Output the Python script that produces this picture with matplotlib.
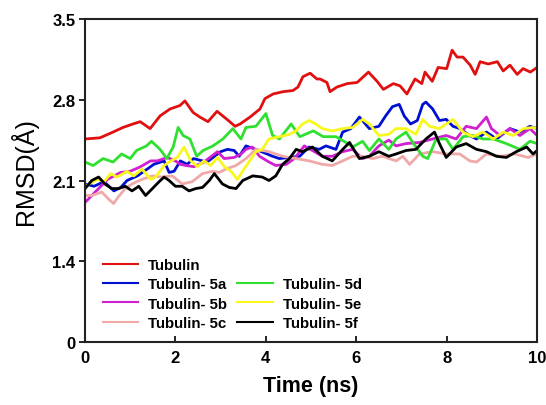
import matplotlib
matplotlib.use("Agg")
import matplotlib.pyplot as plt
from matplotlib.lines import Line2D

plt.rcParams['font.family'] = ['Liberation Sans', 'DejaVu Sans']

# RMSD traces (Å) against simulation time (ns)
t_tub = [0, 0.33, 0.62, 0.84, 1.06, 1.22, 1.44, 1.66, 1.88, 2.10, 2.21, 2.39, 2.54, 2.72, 2.92,
         3.14, 3.32, 3.43, 3.65, 3.87, 3.98, 4.16, 4.38, 4.60, 4.71, 4.82, 4.98, 5.13, 5.2, 5.35,
         5.42, 5.57, 5.8, 6.02, 6.27, 6.46, 6.6, 6.82, 6.97, 7.12, 7.3, 7.45, 7.52, 7.68, 7.81,
         8.0, 8.12, 8.23, 8.36, 8.52, 8.63, 8.74, 8.92, 9.12, 9.25, 9.4, 9.56, 9.69, 9.85, 10]
r_tub = [2.46, 2.47, 2.52, 2.56, 2.59, 2.61, 2.55, 2.66, 2.72, 2.75, 2.79, 2.69, 2.65, 2.61, 2.70,
         2.63, 2.57, 2.59, 2.65, 2.72, 2.81, 2.85, 2.87, 2.88, 2.91, 3.00, 3.03, 2.98, 2.98, 2.95,
         2.87, 2.91, 2.94, 2.95, 3.04, 2.96, 2.89, 2.94, 2.92, 2.85, 2.98, 2.94, 3.04, 2.96, 3.08,
         3.07, 3.23, 3.17, 3.17, 3.10, 3.02, 3.13, 3.11, 3.13, 3.05, 3.10, 3.02, 3.07, 3.04, 3.08]

t_5a = [0, 0.2, 0.42, 0.64, 0.79, 0.93, 1.16, 1.38, 1.52, 1.75, 1.86, 1.97, 2.11, 2.26, 2.4,
        2.7, 3.0, 3.15, 3.3, 3.41, 3.56, 3.78, 4.15, 4.3, 4.75, 4.95, 5.18, 5.33, 5.55, 5.7,
        5.88, 6.07, 6.29, 6.5, 6.65, 6.8, 6.95, 7.06, 7.2, 7.35, 7.47, 7.54, 7.69, 7.84, 7.99,
        8.14, 8.29, 8.51, 8.66, 8.88, 9.1, 9.4, 9.62, 9.84, 10]
r_5a = [2.07, 2.05, 2.09, 2.01, 2.04, 2.10, 2.14, 2.20, 2.24, 2.27, 2.17, 2.18, 2.27, 2.24, 2.29,
        2.26, 2.35, 2.37, 2.36, 2.31, 2.40, 2.37, 2.31, 2.29, 2.31, 2.39, 2.37, 2.40, 2.37, 2.52,
        2.55, 2.65, 2.55, 2.57, 2.66, 2.74, 2.76, 2.66, 2.59, 2.62, 2.76, 2.78, 2.72, 2.62, 2.63,
        2.57, 2.55, 2.49, 2.46, 2.52, 2.46, 2.55, 2.52, 2.57, 2.55]

t_5b = [0, 0.15, 0.3, 0.5, 0.79, 1.0, 1.23, 1.45, 1.6, 1.82, 2.0, 2.11, 2.23, 2.41, 2.63,
        2.93, 3.08, 3.3, 3.45, 3.56, 3.7, 3.86, 4.07, 4.22, 4.45, 4.63, 4.85, 5.03, 5.25, 5.47,
        5.7, 5.92, 6.14, 6.29, 6.5, 6.72, 6.88, 7.1, 7.4, 7.69, 7.99, 8.21, 8.43, 8.66, 8.88,
        8.99, 9.18, 9.4, 9.62, 9.84, 10]
r_5b = [1.91, 1.97, 2.03, 2.11, 2.17, 2.18, 2.22, 2.27, 2.27, 2.30, 2.27, 2.24, 2.23, 2.22, 2.26,
        2.35, 2.29, 2.30, 2.33, 2.37, 2.39, 2.31, 2.26, 2.23, 2.24, 2.29, 2.40, 2.36, 2.31, 2.31,
        2.35, 2.37, 2.29, 2.31, 2.40, 2.45, 2.40, 2.42, 2.43, 2.46, 2.49, 2.46, 2.57, 2.55, 2.65,
        2.55, 2.49, 2.55, 2.49, 2.55, 2.49]

t_5c = [0, 0.15, 0.37, 0.52, 0.63, 0.74, 0.89, 1.04, 1.26, 1.49, 1.71, 1.93, 2.15, 2.37, 2.6,
        2.82, 2.97, 3.12, 3.34, 3.56, 3.78, 4.07, 4.37, 4.67, 4.96, 5.25, 5.47, 5.7, 5.92, 6.14,
        6.36, 6.58, 6.88, 7.03, 7.18, 7.4, 7.69, 7.99, 8.29, 8.51, 8.66, 8.88, 9.2, 9.5, 9.8, 10]
r_5c = [1.97, 1.97, 2.00, 1.94, 1.90, 1.96, 2.03, 2.07, 2.11, 2.14, 2.13, 2.14, 2.07, 2.09, 2.16,
        2.18, 2.17, 2.20, 2.23, 2.29, 2.37, 2.35, 2.31, 2.29, 2.27, 2.24, 2.23, 2.27, 2.31, 2.31,
        2.29, 2.31, 2.27, 2.31, 2.24, 2.33, 2.35, 2.33, 2.33, 2.27, 2.26, 2.33, 2.31, 2.33, 2.30, 2.33]

t_5d = [0, 0.18, 0.4, 0.62, 0.81, 1.0, 1.14, 1.36, 1.47, 1.66, 1.81, 1.95, 2.06, 2.17, 2.32,
        2.47, 2.61, 2.83, 3.05, 3.27, 3.45, 3.56, 3.78, 4.0, 4.15, 4.3, 4.56, 4.75, 5.05, 5.27,
        5.55, 5.77, 5.92, 6.14, 6.29, 6.5, 6.72, 6.88, 7.1, 7.25, 7.47, 7.58, 7.77, 7.99, 8.14,
        8.36, 8.58, 8.8, 9.03, 9.32, 9.62, 9.84, 10]
r_5d = [2.26, 2.23, 2.29, 2.26, 2.33, 2.29, 2.36, 2.40, 2.44, 2.37, 2.29, 2.39, 2.56, 2.49, 2.46,
        2.31, 2.36, 2.40, 2.46, 2.55, 2.46, 2.56, 2.57, 2.68, 2.49, 2.46, 2.59, 2.48, 2.53, 2.48,
        2.48, 2.43, 2.39, 2.44, 2.36, 2.46, 2.37, 2.46, 2.52, 2.43, 2.31, 2.29, 2.46, 2.46, 2.37,
        2.48, 2.49, 2.46, 2.46, 2.42, 2.37, 2.44, 2.42]

t_5e = [0, 0.27, 0.42, 0.57, 0.71, 0.93, 1.08, 1.26, 1.45, 1.56, 1.75, 1.9, 2.04, 2.19, 2.34,
        2.49, 2.63, 2.78, 2.93, 3.08, 3.23, 3.37, 3.52, 3.78, 3.92, 4.07, 4.3, 4.52, 4.67, 4.81,
        4.96, 5.1, 5.25, 5.47, 5.7, 5.92, 6.14, 6.29, 6.5, 6.72, 6.88, 7.1, 7.32, 7.47, 7.62,
        7.84, 8.14, 8.36, 8.58, 8.8, 9.03, 9.25, 9.47, 9.7, 9.91, 10]
r_5e = [2.05, 2.11, 2.09, 2.16, 2.13, 2.18, 2.14, 2.20, 2.11, 2.13, 2.23, 2.27, 2.30, 2.39, 2.27,
        2.22, 2.27, 2.23, 2.30, 2.22, 2.18, 2.11, 2.20, 2.35, 2.37, 2.46, 2.48, 2.50, 2.53, 2.59,
        2.62, 2.59, 2.55, 2.53, 2.55, 2.56, 2.63, 2.59, 2.49, 2.50, 2.55, 2.55, 2.50, 2.63, 2.57,
        2.55, 2.63, 2.52, 2.48, 2.52, 2.46, 2.52, 2.49, 2.55, 2.56, 2.55]

t_5f = [0, 0.15, 0.3, 0.44, 0.59, 0.74, 0.89, 1.04, 1.19, 1.34, 1.49, 1.64, 1.75, 1.86, 2.0,
        2.15, 2.3, 2.45, 2.6, 2.75, 2.86, 3.04, 3.19, 3.34, 3.49, 3.71, 3.92, 4.07, 4.22, 4.37,
        4.52, 4.67, 4.81, 5.03, 5.25, 5.47, 5.7, 5.85, 6.07, 6.29, 6.5, 6.72, 6.88, 7.1, 7.32,
        7.54, 7.73, 7.84, 7.99, 8.21, 8.43, 8.66, 8.88, 9.1, 9.32, 9.54, 9.77, 9.91, 10]
r_5f = [2.03, 2.10, 2.13, 2.07, 2.03, 2.03, 2.05, 2.01, 2.05, 1.97, 2.03, 2.09, 2.13, 2.10, 2.05,
        2.05, 2.01, 2.03, 2.04, 2.10, 2.16, 2.07, 2.04, 2.03, 2.10, 2.14, 2.13, 2.10, 2.14, 2.24,
        2.29, 2.37, 2.35, 2.39, 2.31, 2.27, 2.37, 2.43, 2.29, 2.31, 2.35, 2.31, 2.33, 2.36, 2.37,
        2.46, 2.52, 2.42, 2.30, 2.39, 2.42, 2.37, 2.35, 2.31, 2.30, 2.35, 2.39, 2.33, 2.36]

labels = ['Tubulin', 'Tubulin- 5a', 'Tubulin- 5b', 'Tubulin- 5c',
          'Tubulin- 5d', 'Tubulin- 5e', 'Tubulin- 5f']
colors = ['#e01010', '#0010d0', '#d020d0', '#f0a8a8', '#30e030', '#f8f820', '#000000']
series = [(t_tub, r_tub), (t_5a, r_5a), (t_5b, r_5b), (t_5c, r_5c),
          (t_5d, r_5d), (t_5e, r_5e), (t_5f, r_5f)]

y_ticks = [0.7, 1.4, 2.1, 2.8, 3.5]
y_ticklabels = ['0', '1.4', '2.1', '2.8', '3.5']
x_ticks = [0, 2, 4, 6, 8, 10]

fig = plt.figure(figsize=(5.46, 4.06), dpi=100)
ax = fig.add_axes([0.1557, 0.1552, 0.828, 0.7955])

handles = []
for (t, r), c, lab in zip(series, colors, labels):
    ln, = ax.plot(t, r, color=c, lw=2.0, label=lab)
    handles.append(ln)

ax.set_xlim(0, 10)
ax.set_ylim(0.7, 3.5)
ax.set_xticks(x_ticks)
ax.set_xticklabels([str(v) for v in x_ticks], fontsize=12, fontweight='bold')
ax.set_yticks(y_ticks)
ax.set_yticklabels(y_ticklabels, fontsize=12, fontweight='bold')
ax.tick_params(axis='x', direction='in', length=4, width=1.2, pad=6)
ax.tick_params(axis='y', direction='out', length=4, width=1.2, pad=3)
for s in ax.spines.values():
    s.set_linewidth(1.5)
    s.set_color('#222222')

ax.set_xlabel('Time (ns)', fontsize=15.5, fontweight='bold', labelpad=7)
ax.set_ylabel('RMSD(Å)', fontsize=18)
ax.yaxis.set_label_coords(-0.104, 0.532)

blank = Line2D([], [], color='none')
leg_handles = [handles[0], handles[1], handles[2], handles[3], blank,
               handles[4], handles[5], handles[6]]
leg_labels = [labels[0], labels[1], labels[2], labels[3], '',
              labels[4], labels[5], labels[6]]
leg = ax.legend(leg_handles, leg_labels, ncol=2, frameon=False, loc='lower left',
                bbox_to_anchor=(0.01, -0.005), prop={'weight': 'bold', 'size': 10.8},
                handlelength=2.35, handletextpad=0.67, columnspacing=0.67,
                labelspacing=0.36)
for ln in leg.get_lines():
    ln.set_linewidth(1.5)

fig.savefig('out.png', dpi=100)
